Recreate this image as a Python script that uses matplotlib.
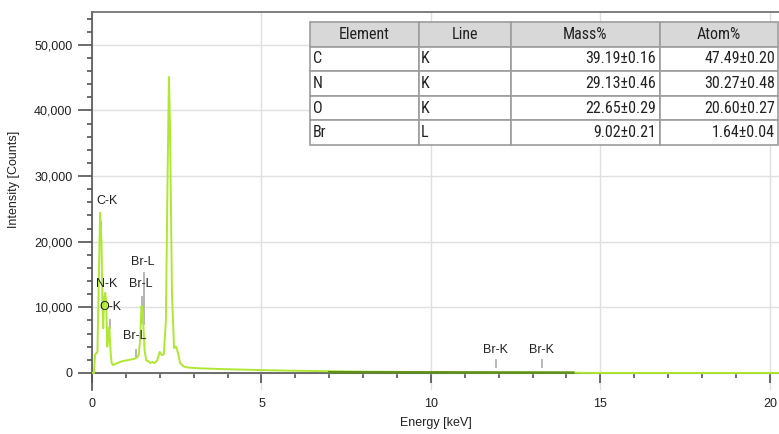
import matplotlib.pyplot as plt
import numpy as np
from matplotlib.ticker import MultipleLocator, FixedLocator, StrMethodFormatter

# EDS spectrum (energy in keV, intensity in counts)
energy = [0.00, 0.06, 0.09, 0.13, 0.16, 0.20, 0.24, 0.28, 0.31, 0.33, 0.36, 0.39,
          0.42, 0.45, 0.48, 0.51, 0.55, 0.58, 0.62, 0.70, 0.80, 0.90, 1.00, 1.10,
          1.20, 1.28, 1.34, 1.38, 1.42, 1.46, 1.50, 1.55, 1.60, 1.66, 1.72, 1.78,
          1.84, 1.92, 2.00, 2.06, 2.12, 2.18, 2.23, 2.27, 2.30, 2.36, 2.42, 2.48,
          2.54, 2.60, 2.70, 2.80, 3.00, 3.20, 3.50, 4.00, 4.50, 5.00, 5.50, 6.00,
          6.50, 7.00, 8.00, 9.00, 10.00, 11.00, 12.00, 13.00, 14.00, 14.30, 14.50,
          15.00, 20.30]
counts = [0, 0, 2800, 3000, 3200, 14000, 24400, 20000, 10000, 6800, 11500, 12200,
          10500, 4000, 5500, 7000, 3000, 1500, 1200, 1400, 1600, 1800, 1900, 2000,
          2100, 2200, 2400, 2800, 5000, 10200, 9000, 3500, 1900, 1800, 1500, 1700,
          1500, 1900, 3200, 2700, 2900, 8000, 30000, 45100, 38000, 12000, 3800, 4000,
          3000, 1500, 1000, 850, 760, 700, 650, 560, 500, 430, 380, 330,
          300, 260, 200, 160, 130, 110, 90, 80, 60, 40, 10,
          0, 0]

# background overlay in the high-energy region
bg_energy = [7.0, 8.0, 10.0, 12.0, 14.2]
bg_counts = [110, 100, 80, 60, 40]

# peak markers: line name, energy, marker bottom/top (counts)
line_names = ["C-K", "N-K", "O-K", "Br-L", "Br-L", "Br-L", "Br-K", "Br-K"]
line_energy = [0.277, 0.392, 0.525, 1.293, 1.480, 1.526, 11.92, 13.29]
marker_lo = [22000, 11000, 6900, 2400, 7600, 7500, 900, 900]
marker_hi = [23000, 12000, 8100, 3500, 11500, 15300, 2000, 2000]
label_x = [0.44, 0.44, 0.53, 1.27, 1.45, 1.50, 11.89, 13.27]
label_y = [26200, 13600, 10100, 5600, 13600, 16900, 3500, 3500]

# quantification table
elements = ["C", "N", "O", "Br"]
lines = ["K", "K", "K", "L"]
mass_pct = ["39.19±0.16", "29.13±0.46", "22.65±0.29", "9.02±0.21"]
atom_pct = ["47.49±0.20", "30.27±0.48", "20.60±0.27", "1.64±0.04"]
headers = ["Element", "Line", "Mass%", "Atom%"]

plt.rcParams['font.family'] = ['Liberation Sans', 'DejaVu Sans']
narrow = ['Liberation Sans Narrow', 'DejaVu Sans Condensed', 'Roboto Condensed',
          'Liberation Sans']

fig = plt.figure(figsize=(7.79, 4.34), dpi=100)
ax = fig.add_axes([92 / 779, 1 - 390 / 434, 1 - 92 / 779, 378 / 434])

ax.plot(energy, counts, color='#aee830', lw=1.4, zorder=3)
ax.plot(bg_energy, bg_counts, color='#5e8f1c', lw=1.8, zorder=3)

for e, lo, hi in zip(line_energy, marker_lo, marker_hi):
    ax.plot([e, e], [lo, hi], color='#b0b0b0', lw=1.3, zorder=2)
for name, x, y in zip(line_names, label_x, label_y):
    ax.text(x, y, name, ha='center', va='center', fontsize=9, color='#222222', zorder=4)

ax.set_xlim(0, 20.27)
ax.set_ylim(-2600, 55000)

ax.xaxis.set_major_locator(MultipleLocator(5))
ax.xaxis.set_minor_locator(MultipleLocator(1))
ax.yaxis.set_major_locator(FixedLocator(np.arange(0, 50001, 10000)))
ax.yaxis.set_minor_locator(FixedLocator(np.arange(0, 55001, 2000)))
ax.yaxis.set_major_formatter(StrMethodFormatter('{x:,.0f}'))

ax.spines['bottom'].set_position(('data', 0))
ax.spines['right'].set_visible(False)
for s in ['left', 'bottom', 'top']:
    ax.spines[s].set_color('#555555')
    ax.spines[s].set_linewidth(1.2)
ax.spines['top'].set_color('#6a6a6a')

ax.tick_params(axis='y', which='major', length=10, width=1.1, color='#444444',
               labelsize=9, pad=4, labelcolor='#222222')
ax.tick_params(axis='y', which='minor', length=3.6, width=1.1, color='#444444')
ax.tick_params(axis='x', which='major', length=7.2, width=1.1, color='#444444',
               labelsize=9, pad=11, labelcolor='#222222')
ax.tick_params(axis='x', which='minor', length=3.6, width=1.1, color='#444444')

ax.grid(which='major', color='#e0e0e0', lw=1, zorder=0)
ax.set_axisbelow(True)

ax.set_xlabel("Energy [keV]", fontsize=9, color='#222222', labelpad=5)
ax.set_ylabel("Intensity [Counts]", fontsize=9, color='#222222', labelpad=6)
ax.yaxis.set_label_coords(-0.105, 0.556)

cells = [list(r) for r in zip(elements, lines, mass_pct, atom_pct)]
col_w = np.array([109, 92, 149, 118]) / 687
tbl = ax.table(cellText=cells, colLabels=headers, colWidths=list(col_w),
               bbox=[0.3173, 0.648, 0.681, 0.3254], zorder=5)
tbl.auto_set_font_size(False)
for (r, c), cell in tbl.get_celld().items():
    cell.set_edgecolor('#9c9c9c')
    cell.set_linewidth(1.2)
    txt = cell.get_text()
    txt.set_fontsize(11.5)
    txt.set_color('#222222')
    txt.set_fontfamily(narrow)
    if r == 0:
        cell.set_facecolor('#d8d8d8')
        txt.set_ha('center')
    else:
        cell.set_facecolor('white')
        cell.PAD = 0.025
        txt.set_ha('left' if c < 2 else 'right')

fig.savefig('out.png', dpi=100)
